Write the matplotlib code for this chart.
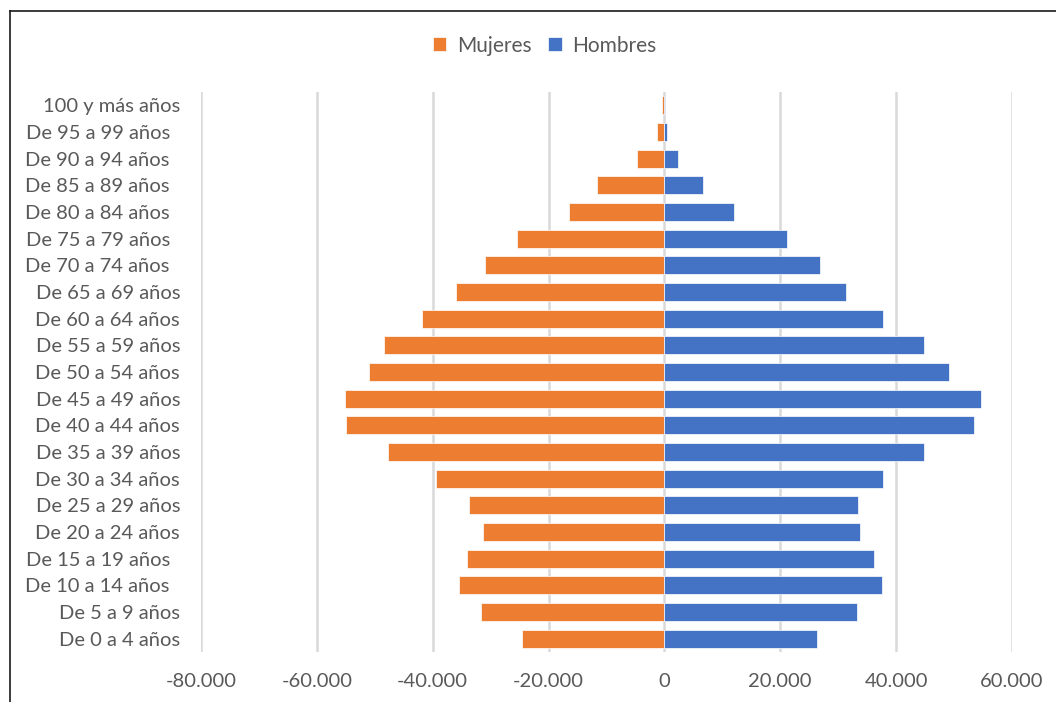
import numpy as np
import matplotlib
matplotlib.use("Agg")
import matplotlib.pyplot as plt
from matplotlib.lines import Line2D
from matplotlib.ticker import FuncFormatter

# age groups, youngest first (bottom of the pyramid)
grupos = ["De 0 a 4 años", "De 5 a 9 años", "De 10 a 14 años  ", "De 15 a 19 años  ",
          "De 20 a 24 años", "De 25 a 29 años", "De 30 a 34 años", "De 35 a 39 años",
          "De 40 a 44 años", "De 45 a 49 años", "De 50 a 54 años", "De 55 a 59 años",
          "De 60 a 64 años", "De 65 a 69 años", "De 70 a 74 años  ", "De 75 a 79 años  ",
          "De 80 a 84 años  ", "De 85 a 89 años  ", "De 90 a 94 años  ", "De 95 a 99 años  ",
          "100 y más años"]
mujeres = [-24500, -31600, -35400, -34000, -31300, -33800, -39400, -47700,
           -54900, -55100, -51000, -48400, -41800, -35900, -30900, -25400,
           -16400, -11600, -4800, -1200, -450]
hombres = [26300, 33300, 37500, 36100, 33700, 33500, 37700, 44900,
           53500, 54600, 49200, 44900, 37700, 31300, 26800, 21100,
           12100, 6700, 2400, 500, 100]
ticks = [-80000, -60000, -40000, -20000, 0, 20000, 40000, 60000]

NARANJA = "#ED7D31"
AZUL = "#4472C4"
GRIS = "#595959"

plt.rcParams["font.family"] = ["Lato", "DejaVu Sans"]

fig = plt.figure(figsize=(10.56, 7.02), dpi=100)
ax = fig.add_axes([0.1903, 0.0712, 0.768, 0.7977])

y = np.arange(len(grupos))
ax.barh(y, mujeres, height=0.67, color=NARANJA, edgecolor="white", linewidth=0.5,
        label="Mujeres", zorder=3)
ax.barh(y, hombres, height=0.67, color=AZUL, edgecolor="white", linewidth=0.5,
        label="Hombres", zorder=3)

ax.set_xlim(-80000, 60000)
ax.set_ylim(-0.5, len(grupos) - 0.5)
ax.set_xticks(ticks)
ax.xaxis.set_major_formatter(FuncFormatter(lambda v, p: f"{int(v):,}".replace(",", ".")))
ax.set_yticks(y)
ax.set_yticklabels(grupos)
ax.grid(axis="x", color="#D9D9D9", linewidth=1.8, zorder=0)
ax.tick_params(axis="both", length=0, labelsize=14.5, colors=GRIS)
ax.tick_params(axis="x", pad=15)
ax.tick_params(axis="y", pad=15)
for s in ax.spines.values():
    s.set_visible(False)

fig.legend(loc="center", bbox_to_anchor=(0.5156, 0.935), ncol=2, frameon=False,
           fontsize=15, labelcolor=GRIS, handlelength=0.65, handleheight=0.65,
           handletextpad=0.5, columnspacing=0.8)

# chart frame
fig.add_artist(Line2D([10 / 1056, 10 / 1056], [0, 1 - 11 / 702], transform=fig.transFigure,
                      color="#1a1a1a", linewidth=1.2))
fig.add_artist(Line2D([10 / 1056, 1], [1 - 11 / 702, 1 - 11 / 702], transform=fig.transFigure,
                      color="#1a1a1a", linewidth=1.2))

fig.savefig("out.png", dpi=100)
